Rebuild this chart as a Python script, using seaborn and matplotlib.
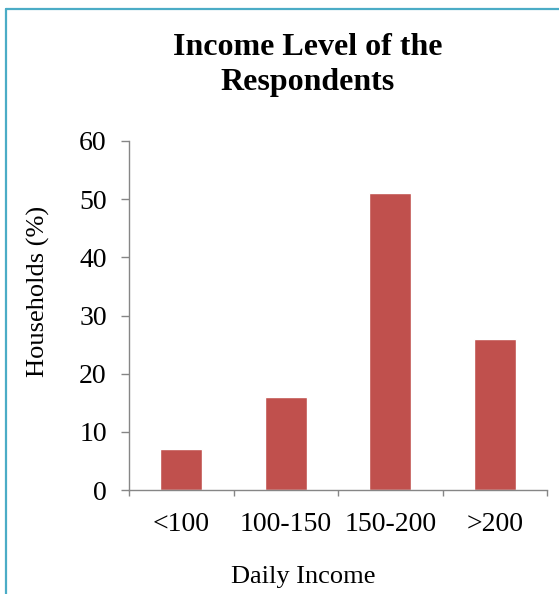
import numpy as np
import matplotlib as mpl
mpl.use("Agg")
import matplotlib.pyplot as plt
import seaborn as sns
import pandas as pd
from matplotlib.lines import Line2D

income_levels = ["<100", "100-150", "150-200", ">200"]
households_pct = [7, 16, 51, 26]
y_ticks = [0, 10, 20, 30, 40, 50, 60]

sns.set_theme(style="white")
plt.rcParams['font.family'] = ['Liberation Serif', 'DejaVu Serif']
plt.rcParams['text.color'] = 'black'

df = pd.DataFrame({"income": income_levels, "pct": households_pct})

fig = plt.figure(figsize=(5.59, 5.94), dpi=100)
ax = fig.add_axes([129/559, 1 - 490/594, (547 - 129)/559, (490 - 141)/594])

sns.barplot(data=df, x="income", y="pct", color="#C0504D", width=0.4,
            saturation=1, ax=ax)

axis_grey = "#868686"
tick_size = 20
label_size = 19
ax.set_ylim(0, 60)
ax.set_yticks(y_ticks)
ax.set_xlim(-0.5, len(income_levels) - 0.5)
# labels at the bar centres, tick marks on the category boundaries
ax.set_xticks(range(len(income_levels)))
ax.set_xticklabels(income_levels)
ax.set_xticks(np.arange(-0.5, len(income_levels)), minor=True)
ax.tick_params(axis="x", which="major", length=0, pad=16, labelsize=tick_size, labelcolor="black")
ax.tick_params(axis="x", which="minor", length=4.5, width=1, color=axis_grey, direction="out")
ax.tick_params(axis="y", length=6, width=1, color=axis_grey, pad=10, labelsize=tick_size,
               labelcolor="black", direction="out")
ax.yaxis.set_ticks_position("left")
ax.xaxis.set_ticks_position("bottom")

sns.despine(ax=ax)
for side in ["left", "bottom"]:
    ax.spines[side].set_color(axis_grey)
    ax.spines[side].set_linewidth(1)

ax.set_xlabel("Daily Income", fontsize=label_size, color="black", va="center")
ax.xaxis.set_label_coords((303 - 129)/418, (490 - 577)/349)
ax.set_ylabel("Households (%)", fontsize=label_size, color="black", va="center")
ax.yaxis.set_label_coords((38 - 129)/418, (490 - 291)/349)

fig.text(308/559, 1 - 65/594, "Income Level of the\nRespondents", ha="center", va="center",
         fontsize=23, fontweight="bold", linespacing=1.28, color="black")

# blue frame on the top and left edges
border = "#4BACC6"
fig.add_artist(Line2D([5.5/559, 5.5/559], [0, 1 - 8.5/594], transform=fig.transFigure,
                      color=border, lw=1.6))
fig.add_artist(Line2D([5.5/559, 1], [1 - 8.5/594, 1 - 8.5/594], transform=fig.transFigure,
                      color=border, lw=1.6))

fig.savefig("out.png", dpi=100)
